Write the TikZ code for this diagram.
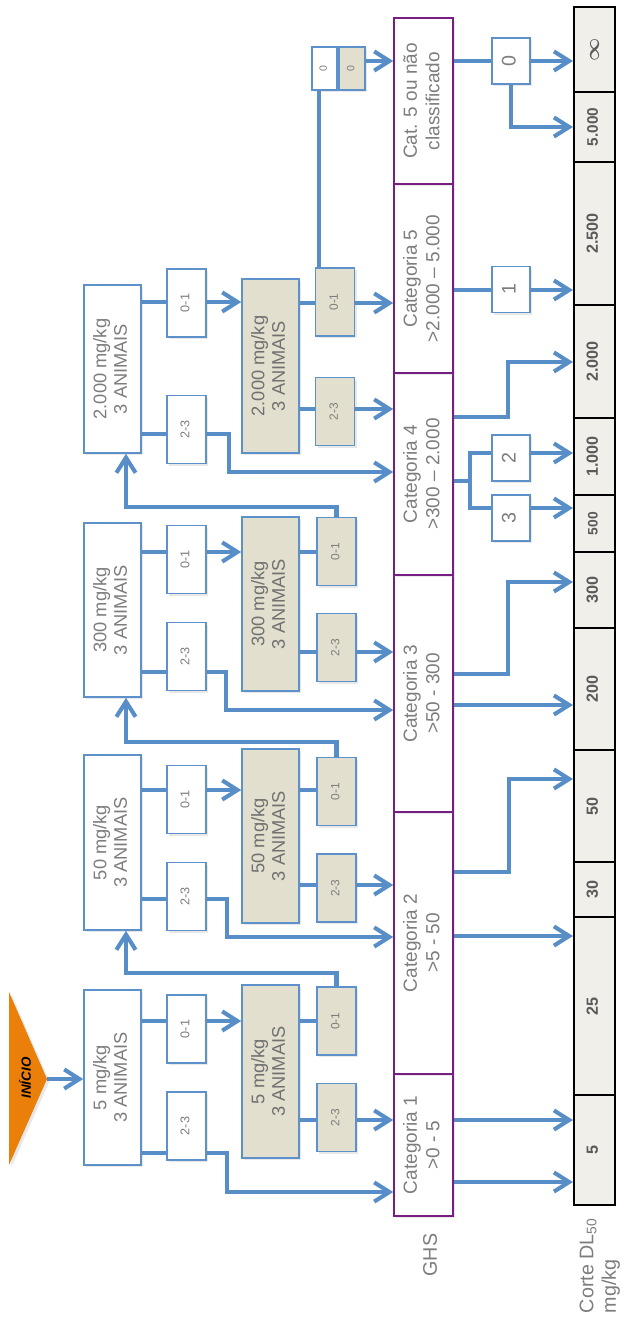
\documentclass[tikz,border=0pt]{standalone}
\usepackage{fontspec}
\setmainfont{Liberation Sans}
\usepackage{amsmath,amssymb}
\usepackage{graphicx}
\usepackage{xcolor}
\usepackage{tikz}
\usetikzlibrary{arrows.meta,positioning,shadows,backgrounds,calc}

\definecolor{lineblue}{RGB}{88,142,200}
\definecolor{boxblue}{RGB}{92,145,204}
\definecolor{dosegray}{RGB}{226,223,206}
\definecolor{cutfill}{RGB}{241,239,233}
\definecolor{catpurple}{RGB}{118,30,130}
\definecolor{txtgray}{RGB}{125,125,125}
\definecolor{numgray}{RGB}{90,90,90}
\definecolor{startorange}{RGB}{234,128,10}

\newcommand{\vtxt}[1]{\rotatebox{90}{\begin{tabular}{@{}c@{}}#1\end{tabular}}}

\begin{document}
\begin{tikzpicture}[
  x=0.025cm, y=-0.025cm,
  sz/.style 2 args={minimum width=#1*0.025cm, minimum height=#2*0.025cm},
  boxshadow/.style={drop shadow={shadow xshift=0.6mm, shadow yshift=-0.6mm, opacity=0.18}},
  stepbox/.style={draw=boxblue, line width=1.1pt, fill=white, inner sep=0pt, text=txtgray, font=\fontsize{13}{14.5}\selectfont, boxshadow},
  dosebox/.style={stepbox, fill=dosegray, text=txtgray!90!black},
  countbox/.style={draw=boxblue, line width=1.1pt, fill=white, inner sep=0pt, sz={39}{68}, text=txtgray, font=\fontsize{9}{10}\selectfont, boxshadow},
  dosecount/.style={countbox, fill=dosegray, font=\fontsize{8.5}{10}\selectfont},
  catbox/.style={draw=catpurple, line width=1.1pt, fill=white, inner sep=0pt, text=txtgray, font=\fontsize{13.5}{16}\selectfont, boxshadow},
  cutbox/.style={draw=black, line width=1.5pt, fill=cutfill, inner sep=0pt, sz={41}{#1}, text=numgray, font=\bfseries\fontsize{11.5}{12}\selectfont},
  scorebox/.style={countbox, sz={38}{46}, font=\fontsize{14}{16}\selectfont},
  conn/.style={draw=lineblue, line width=2.9pt},
  arr/.style={conn, -{Straight Barb[length=3.8mm, width=4.8mm]}},
]
  \useasboundingbox (0,0) rectangle (626,1319);
  \begin{scope}[on background layer]
    \fill[white] (0,0) rectangle (626,1319);
  \end{scope}

  % Start
  \fill[startorange, boxshadow] (9,992) -- (47,1079) -- (9,1165) -- cycle;
  \coordinate (tip) at (47,1079);
  \node[font=\bfseries\itshape\fontsize{9.5}{10}\selectfont] (inicio) at (25,1078) {\rotatebox{90}{INÍCIO}};

  % Steps
  \node[stepbox, sz={57}{175}] (s5)    at (112.5,1077.5) {\vtxt{5 mg/kg\\3 ANIMAIS}};
  \node[stepbox, sz={57}{175}] (s50)   at (112.5,842.5)  {\vtxt{50 mg/kg\\3 ANIMAIS}};
  \node[stepbox, sz={57}{174}] (s300)  at (112.5,610)    {\vtxt{300 mg/kg\\3 ANIMAIS}};
  \node[stepbox, sz={57}{168}] (s2000) at (112.5,369)    {\vtxt{2.000 mg/kg\\3 ANIMAIS}};

  % Deaths after first step
  \node[countbox] (a5)    at (186.5,1029)  {\vtxt{0-1}};
  \node[countbox] (b5)    at (186.5,1126)  {\vtxt{2-3}};
  \node[countbox] (a50)   at (186.5,799.5) {\vtxt{0-1}};
  \node[countbox] (b50)   at (186.5,896.5) {\vtxt{2-3}};
  \node[countbox] (a300)  at (186.5,559.5) {\vtxt{0-1}};
  \node[countbox] (b300)  at (186.5,656.5) {\vtxt{2-3}};
  \node[countbox] (a2000) at (186.5,303)   {\vtxt{0-1}};
  \node[countbox] (b2000) at (186.5,429.5) {\vtxt{2-3}};

  % Repeated doses
  \node[dosebox, sz={57}{173}] (g5)    at (270.5,1071.5) {\vtxt{5 mg/kg\\3 ANIMAIS}};
  \node[dosebox, sz={57}{174}] (g50)   at (270.5,836)    {\vtxt{50 mg/kg\\3 ANIMAIS}};
  \node[dosebox, sz={57}{174}] (g300)  at (270.5,604)    {\vtxt{300 mg/kg\\3 ANIMAIS}};
  \node[dosebox, sz={57}{174}] (g2000) at (270.5,366)    {\vtxt{2.000 mg/kg\\3 ANIMAIS}};

  % Deaths after second step
  \node[dosecount] (c5)    at (336.5,1021)   {\vtxt{0-1}};
  \node[dosecount] (d5)    at (336.5,1117.5) {\vtxt{2-3}};
  \node[dosecount] (c50)   at (336.5,791.5)  {\vtxt{0-1}};
  \node[dosecount] (d50)   at (336.5,888)    {\vtxt{2-3}};
  \node[dosecount] (c300)  at (336.5,551.5)  {\vtxt{0-1}};
  \node[dosecount] (d300)  at (336.5,647.5)  {\vtxt{2-3}};
  \node[dosecount] (c2000) at (335,302)      {\vtxt{0-1}};
  \node[dosecount] (d2000) at (335,411.5)    {\vtxt{2-3}};
  \node[countbox, sz={25}{43}, font=\fontsize{7.5}{8}\selectfont] (w0) at (324.5,68.5) {\vtxt{0}};
  \node[dosecount, sz={26}{43}, font=\fontsize{7.5}{8}\selectfont] (z0) at (352,68.5) {\vtxt{0}};

  % GHS
  \node[catbox, sz={59}{142}] (k1) at (423.5,1145)  {\vtxt{Categoria 1\\>0 - 5}};
  \node[catbox, sz={59}{262}] (k2) at (423.5,943)   {\vtxt{Categoria 2\\>5 - 50}};
  \node[catbox, sz={59}{237}] (k3) at (423.5,693.5) {\vtxt{Categoria 3\\>50 - 300}};
  \node[catbox, sz={59}{202}] (k4) at (423.5,474)   {\vtxt{Categoria 4\\>300 -- 2.000}};
  \node[catbox, sz={59}{189}] (k5) at (423.5,278.5) {\vtxt{Categoria 5\\>2.000 -- 5.000}};
  \node[catbox, sz={59}{166}] (k6) at (423.5,101)   {\vtxt{Cat. 5 ou não\\classificado}};
  \node[text=txtgray, font=\fontsize{14}{16}\selectfont] (ghs) at (430,1255) {\rotatebox{90}{GHS}};

  % Deaths in GHS step
  \node[scorebox] (n0) at (511,61)    {\vtxt{0}};
  \node[scorebox] (n1) at (511,289.5) {\vtxt{1}};
  \node[scorebox] (n2) at (511,458)   {\vtxt{2}};
  \node[scorebox] (n3) at (511,518)   {\vtxt{3}};

  % Cut-off values
  \node[cutbox=110] (v5)    at (594.5,1150)  {\vtxt{5}};
  \node[cutbox=178] (v25)   at (594.5,1006)  {\vtxt{25}};
  \node[cutbox=55]  (v30)   at (594.5,889.5) {\vtxt{30}};
  \node[cutbox=112] (v50)   at (594.5,806)   {\vtxt{50}};
  \node[cutbox=122] (v200)  at (594.5,689)   {\vtxt{200}};
  \node[cutbox=76]  (v300)  at (594.5,590)   {\vtxt{300}};
  \node[cutbox=57, font=\bfseries\fontsize{9.8}{11}\selectfont] (v500) at (594.5,523.5) {\vtxt{500}};
  \node[cutbox=77]  (v1000) at (594.5,456.5) {\vtxt{1.000}};
  \node[cutbox=113] (v2000) at (594.5,361.5) {\vtxt{2.000}};
  \node[cutbox=143] (v2500) at (594.5,233.5) {\vtxt{2.500}};
  \node[cutbox=70, font=\bfseries\fontsize{10.9}{12}\selectfont] (v5000) at (594.5,127) {\vtxt{5.000}};
  \node[cutbox=85, font=\fontsize{15}{16}\selectfont] (vinf) at (594.5,49.5) {\rotatebox{90}{$\boldsymbol{\infty}$}};
  \node[anchor=south, text=txtgray, font=\fontsize{14}{16}\selectfont] (corte) at (600,1318)
    {\rotatebox{90}{\begin{tabular}{@{}l@{}}Corte DL\textsubscript{50}\\mg/kg\end{tabular}}};

  \begin{scope}[on background layer]
    % 5 mg/kg
    \draw[arr] (tip) -- (s5.west |- tip);
    \draw[arr] (s5.east |- 0,1021) -- (g5.west |- 0,1021);
    \draw[conn] (g5.east |- 0,1021) -- (c5.west |- 0,1021);
    \draw[arr] (c5.north) |- (126,973) -- (s50.south -| 126,0);
    \draw[arr] (s5.east |- 0,1153) -| (227,1192) -- (k1.west |- 0,1192);
    \draw[arr] (g5.east |- 0,1120) -- (k1.west |- 0,1120);

    % 50 mg/kg
    \draw[arr] (s50.east |- 0,790) -- (g50.west |- 0,790);
    \draw[conn] (g50.east |- 0,790) -- (c50.west |- 0,790);
    \draw[arr] (c50.north) |- (126,742) -- (s300.south -| 126,0);
    \draw[arr] (s50.east |- 0,899) -| (227,937) -- (k2.west |- 0,937);
    \draw[arr] (g50.east |- 0,885) -- (k2.west |- 0,885);

    % 300 mg/kg
    \draw[arr] (s300.east |- 0,552) -- (g300.west |- 0,552);
    \draw[conn] (g300.east |- 0,552) -- (c300.west |- 0,552);
    \draw[arr] (c300.north) |- (126,507) -- (s2000.south -| 126,0);
    \draw[arr] (s300.east |- 0,672) -| (226,710) -- (k3.west |- 0,710);
    \draw[arr] (g300.east |- 0,652) -- (k3.west |- 0,652);

    % 2.000 mg/kg
    \draw[arr] (s2000.east |- 0,302) -- (g2000.west |- 0,302);
    \draw[arr] (g2000.east |- 0,303) -- (k5.west |- 0,303);
    \draw[arr] (s2000.east |- 0,434) -| (229,472) -- (k4.west |- 0,472);
    \draw[arr] (g2000.east |- 0,409) -- (k4.west |- 0,409);
    \draw[conn] (c2000.north -| 319,0) -- (w0.south -| 319,0);
    \draw[conn] (w0.east |- 0,61) -- (z0.west |- 0,61);
    \draw[arr] (z0.east |- 0,61) -- (k6.west |- 0,61);

    % GHS to cut-off
    \draw[arr] (k1.east |- 0,1120) -- (v5.west |- 0,1120);
    \draw[arr] (k1.east |- 0,1182) -- (v5.west |- 0,1182);
    \draw[arr] (k2.east |- 0,936) -- (v25.west |- 0,936);
    \draw[arr] (k2.east |- 0,872) -| (509,779) -- (v50.west |- 0,779);
    \draw[arr] (k3.east |- 0,705) -- (v200.west |- 0,705);
    \draw[arr] (k3.east |- 0,674) -| (508,582) -- (v300.west |- 0,582);
    \draw[arr] (k4.east |- 0,417) -| (508,362) -- (v2000.west |- 0,362);
    \draw[conn] (k4.east |- 0,481) -- (470,481) coordinate (fork);
    \draw[arr] (fork) |- (v1000.west |- 0,453);
    \draw[arr] (fork) |- (v500.west |- 0,508);
    \draw[arr] (k5.east |- 0,290) -- (v2500.west |- 0,290);
    \draw[arr] (k6.east |- 0,61) -- (vinf.west |- 0,61);
    \draw[arr] (n0.south) |- (v5000.west |- 0,127);
  \end{scope}
\end{tikzpicture}
\end{document}
